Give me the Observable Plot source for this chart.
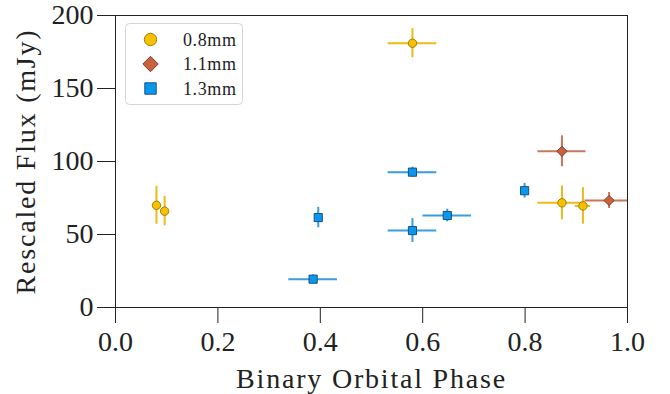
<!DOCTYPE html>
<html><head><meta charset="utf-8">
<script src="https://cdn.jsdelivr.net/npm/d3@7"></script>
<script src="https://cdn.jsdelivr.net/npm/@observablehq/plot@0.6"></script>
<style>
body{margin:0;background:#fff}
#wrap{position:relative;width:670px;height:394px}
#legend{position:absolute;left:125px;top:23px}
</style></head><body><div id="wrap"></div><script>
// 0.8mm
const phase08 = [0.080, 0.096, 0.580, 0.872, 0.913];
const flux08  = [70, 66, 181, 71.7, 69.6];
const xerr08  = [0, 0, 0.0475, 0.047, 0.015];
const yerr08  = [13, 10, 10, 11.6, 12.5];
// 1.1mm
const phase11 = [0.872, 0.964];
const flux11  = [107, 73.3];
const xerr11  = [0.047, 0.047];
const yerr11  = [10.6, 5.5];
// 1.3mm
const phase13 = [0.580, 0.396, 0.580, 0.648, 0.386, 0.799];
const flux13  = [92.7, 61.6, 52.7, 63, 19.4, 80];
const xerr13  = [0.0475, 0, 0.0475, 0.0475, 0.0475, 0];
const yerr13  = [3.4, 7, 8.2, 4.3, 3, 5];

const bands = ["0.8mm", "1.1mm", "1.3mm"];
const xTicks = [0, 0.2, 0.4, 0.6, 0.8, 1.0];
const yTicks = [0, 50, 100, 150, 200];

const FONT = "'Liberation Serif', 'Times New Roman', serif";

const styles = {
  "0.8mm": {line: "#e8b400", fill: "#f7c100", stroke: "#a07e00", symbol: "circle", r: 4.2},
  "1.1mm": {line: "#c4674a", fill: "#c8623e", stroke: "#7e3a22", symbol: "diamond2", r: 4.6},
  "1.3mm": {line: "#2494dc", fill: "#0a98ec", stroke: "#174f86", symbol: "square", r: 4.6}
};

function rows(band, ph, fl, xe, ye) {
  return ph.map((p, i) => ({band, phase: p, flux: fl[i], xerr: xe[i], yerr: ye[i]}));
}
const sets = [
  rows("0.8mm", phase08, flux08, xerr08, yerr08),
  rows("1.1mm", phase11, flux11, xerr11, yerr11),
  rows("1.3mm", phase13, flux13, xerr13, yerr13)
];

const marks = [];
for (const data of sets) {
  const s = styles[data[0].band];
  marks.push(Plot.ruleY(data.filter(d => d.xerr > 0), {y: "flux", x1: d => d.phase - d.xerr, x2: d => d.phase + d.xerr, stroke: s.line, strokeWidth: 2, strokeOpacity: 0.9, clip: true}));
  marks.push(Plot.ruleX(data, {x: "phase", y1: d => d.flux - d.yerr, y2: d => d.flux + d.yerr, stroke: s.line, strokeWidth: 2, strokeOpacity: 0.9, clip: true}));
}
for (const data of sets) {
  const s = styles[data[0].band];
  marks.push(Plot.dot(data, {x: "phase", y: "flux", symbol: () => s.symbol, r: s.r, fill: s.fill, stroke: s.stroke, strokeWidth: 1}));
}

const plot = Plot.plot({
  width: 670, height: 394,
  marginLeft: 115, marginRight: 43, marginTop: 15, marginBottom: 87,
  style: {fontFamily: FONT, background: "white", color: "#222"},
  x: {domain: [0, 1]},
  y: {domain: [0, 200]},
  symbol: {type: "identity"},
  marks: [
    Plot.frame({stroke: "#222"}),
    Plot.axisX({ticks: xTicks, tickFormat: d3.format(".1f"), tickSize: 16, tickPadding: 8, fontSize: 28,
      label: "Binary Orbital Phase", labelArrow: "none", labelAnchor: "center", labelOffset: 80}),
    Plot.axisY({ticks: yTicks, tickSize: 18, tickPadding: 4, fontSize: 28,
      label: "Rescaled Flux (mJy)", labelArrow: "none", labelAnchor: "center", labelOffset: 100}),
    ...marks
  ]
});
const wrap = document.getElementById("wrap");
wrap.appendChild(plot);
d3.select(plot).selectAll('[aria-label="x-axis label"] text, [aria-label="y-axis label"] text').style("letter-spacing", "1.8px");

// legend
const lg = d3.select(wrap).append("svg").attr("id", "legend").attr("width", 119).attr("height", 83);
lg.append("rect").attr("x", 0.5).attr("y", 0.5).attr("width", 117).attr("height", 81).attr("rx", 4)
  .attr("fill", "white").attr("fill-opacity", 0.8).attr("stroke", "#d4d4d4");
const symMap = {circle: d3.symbolCircle, diamond2: d3.symbolDiamond2, square: d3.symbolSquare};
const legSize = {"0.8mm": 120, "1.1mm": 150, "1.3mm": 130};
bands.forEach((b, i) => {
  const s = styles[b];
  const y = 16.5 + i * 24.5;
  lg.append("path").attr("d", d3.symbol(symMap[s.symbol], legSize[b])())
    .attr("transform", `translate(25.5,${y})`).attr("fill", s.fill).attr("stroke", s.stroke).attr("stroke-width", 1);
  lg.append("text").attr("x", 58).attr("y", y).attr("dy", "0.35em").style("font-family", FONT)
    .attr("font-size", 18).attr("fill", "#222").attr("letter-spacing", "0.6px").text(b);
});
</script></body></html>
